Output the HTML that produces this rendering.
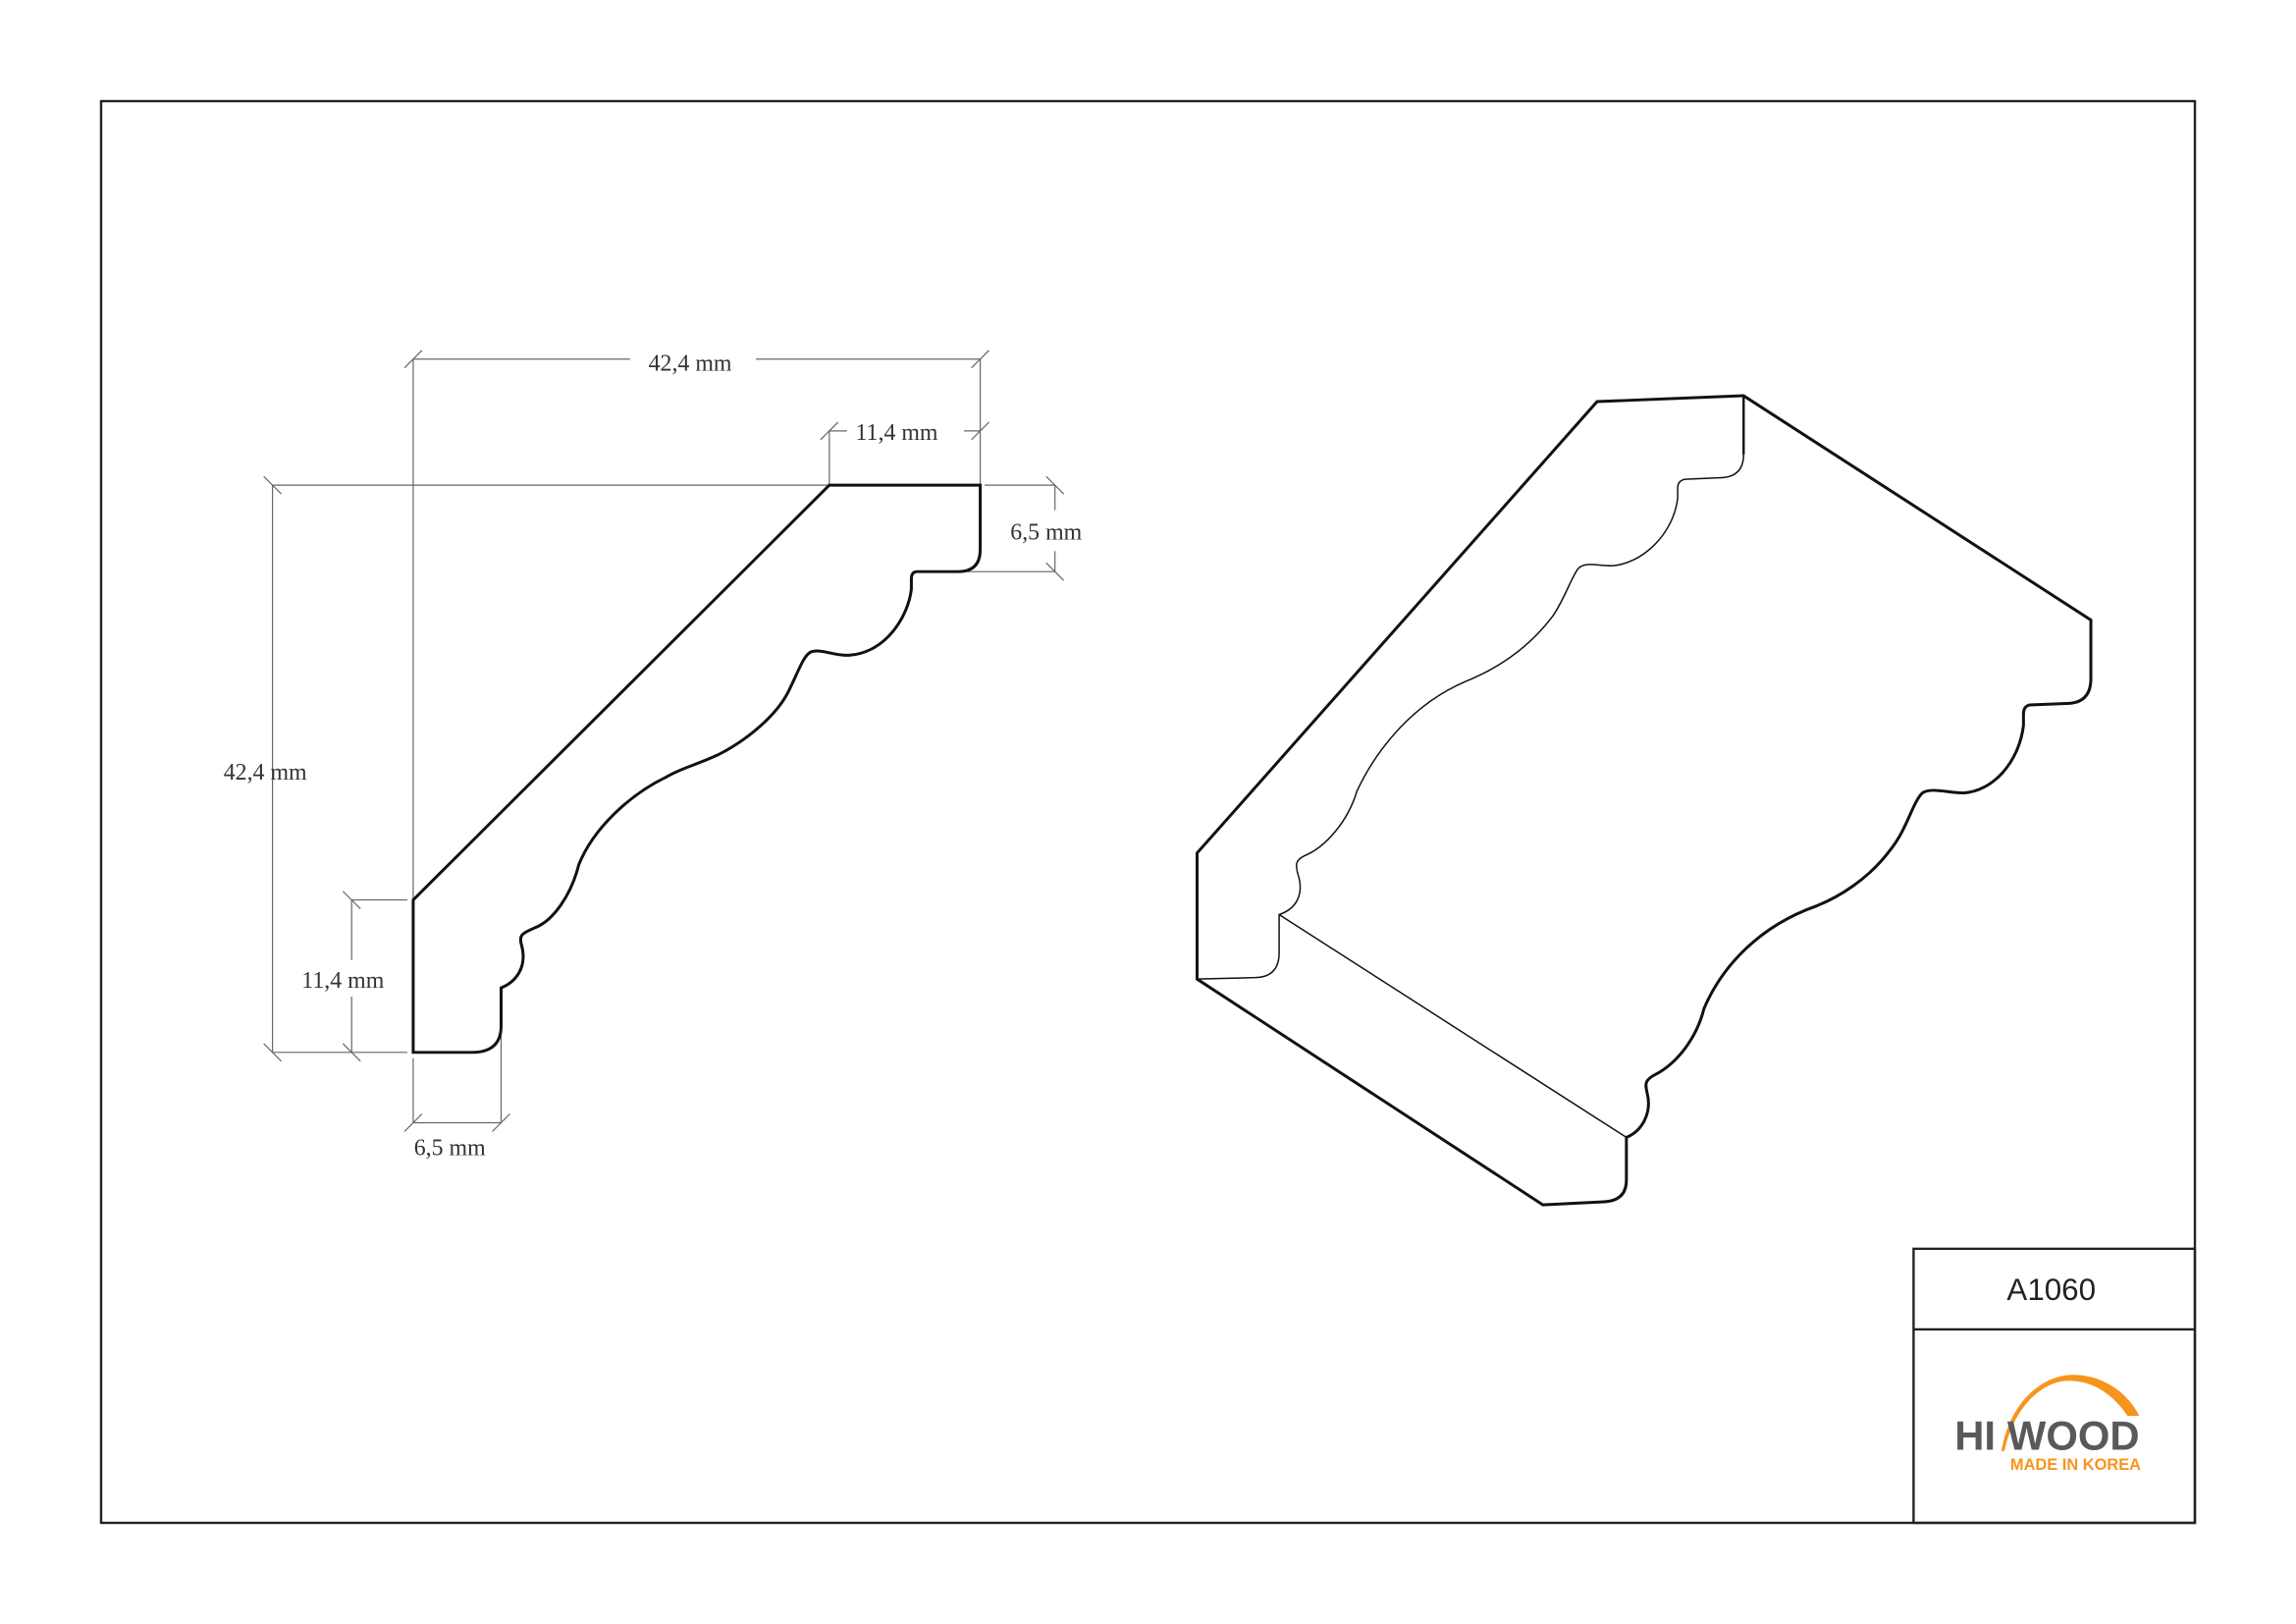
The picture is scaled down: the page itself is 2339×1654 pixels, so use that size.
<!DOCTYPE html>
<html><head><style>html,body{margin:0;padding:0;background:#fff}svg{display:block}</style></head>
<body>
<svg width="2339" height="1654" viewBox="0 0 1567 1108" preserveAspectRatio="none" xmlns="http://www.w3.org/2000/svg">
<rect x="69" y="69" width="1429" height="970" fill="none" stroke="#222" stroke-width="1.6"/>
<!-- title block -->
<rect x="1306" y="852" width="192" height="187" fill="none" stroke="#222" stroke-width="1.6"/>
<line x1="1306" y1="907" x2="1498" y2="907" stroke="#222" stroke-width="1.6"/>
<text x="1400" y="887" font-family="Liberation Sans, sans-serif" font-size="21" text-anchor="middle" fill="#222">A1060</text>
<path d="M1366,990 C1372,955 1395,938 1415,938 C1435,938 1452,950 1460,966 L1452,966 C1440,948 1425,942 1412,942 C1395,942 1375,958 1368,990 Z" fill="#f7941d"/>
<text x="1334" y="989" font-family="Liberation Sans, sans-serif" font-weight="bold" font-size="28" fill="#58595b">HI</text>
<text x="1370" y="989" font-family="Liberation Sans, sans-serif" font-weight="bold" font-size="28" fill="#58595b">WOOD</text>
<text x="1372" y="1003" font-family="Liberation Sans, sans-serif" font-weight="bold" font-size="11" fill="#f7941d">MADE IN KOREA</text>

<!-- dimension lines -->
<g stroke="#666" stroke-width="0.8" fill="none">
<line x1="282" y1="245" x2="282" y2="614"/>
<line x1="282" y1="245" x2="430" y2="245"/><line x1="516" y1="245" x2="669" y2="245"/>
<line x1="669" y1="245" x2="669" y2="331"/>
<line x1="566" y1="294" x2="566" y2="331"/><line x1="566" y1="294" x2="578" y2="294"/><line x1="658" y1="294" x2="669" y2="294"/>
<line x1="186" y1="331" x2="566" y2="331"/>
<line x1="186" y1="331" x2="186" y2="718"/>
<line x1="672" y1="331" x2="720" y2="331"/><line x1="720" y1="331" x2="720" y2="348"/><line x1="720" y1="376" x2="720" y2="390"/>
<line x1="654" y1="390" x2="720" y2="390"/>
<line x1="240" y1="614" x2="278" y2="614"/><line x1="240" y1="614" x2="240" y2="655"/><line x1="240" y1="680" x2="240" y2="718"/>
<line x1="186" y1="718" x2="278" y2="718"/>
<line x1="282" y1="722" x2="282" y2="766"/><line x1="342" y1="705" x2="342" y2="766"/><line x1="282" y1="766" x2="342" y2="766"/>
<path d="M276,251 L288,239 M663,251 L675,239 M560,300 L572,288 M663,300 L675,288 M180,325 L192,337 M714,325 L726,337 M714,384 L726,396 M234,608 L246,620 M180,712 L192,724 M234,712 L246,724 M276,772 L288,760 M336,772 L348,760"/>
</g>
<g font-family="Liberation Serif, serif" font-size="16" fill="#333">
<text x="471" y="253" text-anchor="middle">42,4 mm</text>
<text x="612" y="300" text-anchor="middle">11,4 mm</text>
<text x="714" y="368" text-anchor="middle">6,5 mm</text>
<text x="181" y="532" text-anchor="middle">42,4 mm</text>
<text x="234" y="674" text-anchor="middle">11,4 mm</text>
<text x="307" y="788" text-anchor="middle">6,5 mm</text>
</g>

<!-- left profile -->
<path d="M282,614 L566,331 L669,331 L669,375 Q669,390 654,390 L626,390 Q622,390 622,395 L622,402 C620,420 605,445 580,447 C570,448 560,442 553,445 C548,448 545,458 538,472 C530,488 510,505 490,515 C475,522 465,524 455,530 C430,542 405,565 395,590 C390,610 378,628 365,633 C356,637 354,638 356,645 C360,660 352,670 342,674 L342,700 Q342,718 322,718 L282,718 Z" fill="none" stroke="#111" stroke-width="2"/>

<!-- right 3D -->
<path d="M1090,274 L1190,270 L1427,423 L1427,463 Q1427,480 1410,480 L1385,481 Q1381,482 1381,487 L1381,495 C1378,520 1360,540 1340,541 C1330,541 1318,537 1312,541 C1305,548 1302,565 1290,580 C1275,600 1255,612 1240,618 C1200,632 1175,660 1163,688 C1158,708 1145,725 1130,733 C1122,737 1123,740 1124,745 C1128,760 1120,772 1110,776 L1110,805 Q1110,820 1093,820 L1053,822 L817,668 L817,582 Z" fill="none" stroke="#111" stroke-width="2"/>
<line x1="1190" y1="270" x2="1190" y2="310" stroke="#111" stroke-width="1.6"/>
<path d="M1190,310 Q1190,326 1173,326 L1150,327 Q1145,328 1145,333 L1145,340 C1142,365 1120,385 1100,386 C1090,386 1082,383 1077,388 C1072,395 1068,408 1060,420 C1045,440 1025,455 1000,465 C965,480 940,510 926,540 C920,560 905,578 890,584 C884,587 884,590 886,597 C890,610 885,620 873,624 L873,650 Q873,667 856,667 L817,668" fill="none" stroke="#111" stroke-width="1"/>
<line x1="873" y1="624" x2="1110" y2="776" stroke="#111" stroke-width="1"/>
</svg>
</body></html>
